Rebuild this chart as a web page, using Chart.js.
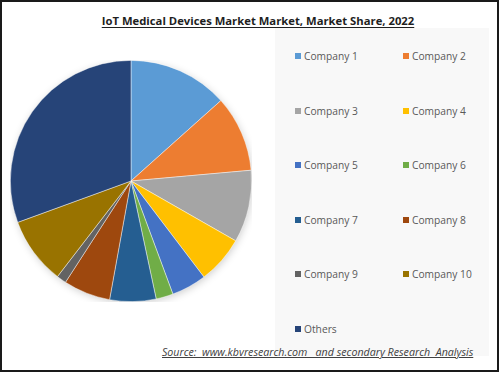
<!DOCTYPE html>
<html>
<head>
<meta charset="utf-8">
<script src="https://cdn.jsdelivr.net/npm/chart.js@4/dist/chart.umd.min.js"></script>
<style>
  html,body{margin:0;padding:0;background:#fff;}
  #frame{position:absolute;left:0;top:0;width:495px;height:368px;border:2px solid #1a1a1a;background:#fff;overflow:hidden;}
  #title{position:absolute;left:6.5px;top:6px;width:499px;text-align:center;font-family:"Open Sans",sans-serif;font-weight:700;color:#1f1f1f;white-space:nowrap;}
  #title span{text-decoration:underline;text-underline-offset:2px;}
  #legendBox{position:absolute;left:273px;top:26px;width:214px;height:328px;background:#f8f8f8;}
  .li{position:absolute;font-family:"Open Sans",sans-serif;color:#595959;white-space:nowrap;line-height:14px;height:14px;}
  .sw{position:absolute;width:6px;height:6px;top:4px;left:0;}
  .lt{position:absolute;left:9px;top:0;}
  #source{position:absolute;top:343px;left:160px;font-family:"Open Sans",sans-serif;font-style:italic;color:#404040;white-space:nowrap;text-decoration:underline;}
  #pieWrap{position:absolute;left:8px;top:58px;width:242px;height:242px;}
</style>
</head>
<body>
<div id="frame">
  <div id="title"><span id="titleText">IoT Medical Devices Market Market, Market Share, 2022</span></div>
  <div id="legendBox"></div>
  <div id="pieWrap"><canvas id="c"></canvas></div>
  <div id="legend"></div>
  <div id="source">Source:&nbsp; www.kbvresearch.com&nbsp;&nbsp; and secondary Research&nbsp; Analysis</div>
</div>
<script>
const categories = ["Company 1","Company 2","Company 3","Company 4","Company 5","Company 6","Company 7","Company 8","Company 9","Company 10","Others"];
const shares = [13.4,10.2,9.7,6.4,4.7,2.3,6.2,6.3,1.3,9.0,30.6];
const colors = ["#5B9BD5","#ED7D31","#A5A5A5","#FFC000","#4472C4","#70AD47","#255E91","#9E480E","#636363","#997300","#264478"];

function fitWidth(el, target, start){
  let s = start; el.style.fontSize = s + "px";
  for(let i=0;i<40;i++){
    const w = el.getBoundingClientRect().width;
    if (Math.abs(w-target) < 0.5) break;
    s = s * target / w; el.style.fontSize = s + "px";
  }
}

const shadowPlugin = {
  id:'shadow',
  beforeDatasetsDraw(chart){
    const arc = chart.getDatasetMeta(0).data[0];
    if(!arc) return;
    const ctx = chart.ctx;
    ctx.save();
    ctx.shadowColor = 'rgba(0,0,0,0.22)';
    ctx.shadowBlur = 8;
    ctx.shadowOffsetX = 1;
    ctx.shadowOffsetY = 2;
    ctx.fillStyle = '#ffffff';
    ctx.beginPath();
    ctx.arc(arc.x, arc.y, arc.outerRadius-1, 0, Math.PI*2);
    ctx.fill();
    ctx.restore();
  }
};

const chart = new Chart(document.getElementById('c'), {
  type:'pie',
  data:{labels:categories, datasets:[{data:shares, backgroundColor:colors, borderColor:'rgba(255,255,255,0.55)', borderWidth:0.8}]},
  options:{
    responsive:true, maintainAspectRatio:false, animation:false,
    layout:{padding:0},
    plugins:{legend:{display:false}, tooltip:{enabled:false}}
  },
  plugins:[shadowPlugin]
});

// HTML legend generated from chart data
const items = Chart.overrides.pie.plugins.legend.labels.generateLabels(chart);
const legend = document.getElementById('legend');
const rowY = [47, 101.5, 156, 210.5, 265, 319.5];
const colX = [293, 401];
items.forEach((it, i) => {
  const d = document.createElement('div');
  d.className = 'li';
  d.style.left = colX[i % 2] + 'px';
  d.style.top = rowY[Math.floor(i/2)] + 'px';
  d.innerHTML = '<div class="sw" style="background:' + it.fillStyle + '"></div><div class="lt">' + it.text + '</div>';
  legend.appendChild(d);
});
const firstText = legend.querySelector('.lt');
fitWidth(firstText, 54, 11);
const fs = firstText.style.fontSize;
legend.querySelectorAll('.lt').forEach(e => e.style.fontSize = fs);

fitWidth(document.getElementById('titleText'), 313, 13);
fitWidth(document.getElementById('source'), 311, 11);
</script>
</body>
</html>
